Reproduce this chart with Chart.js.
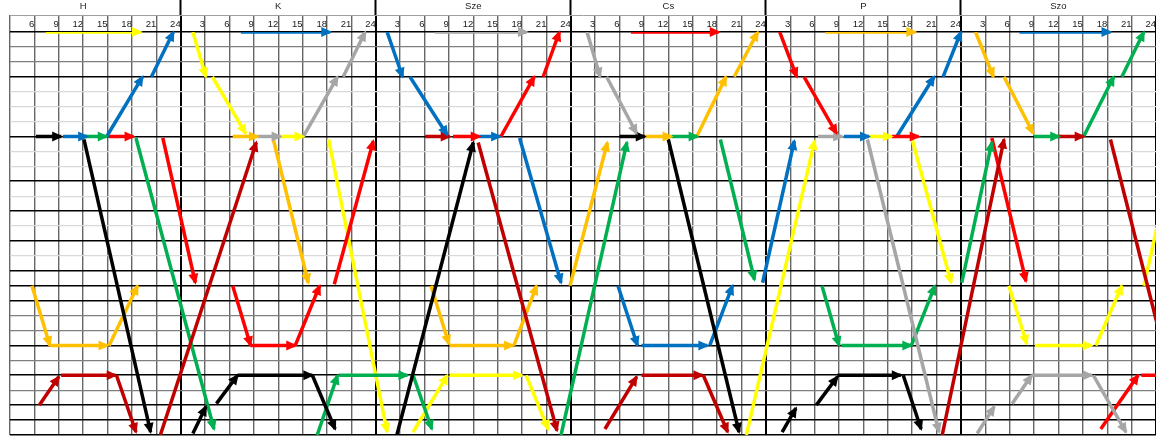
<!DOCTYPE html>
<html>
<head>
<meta charset="utf-8">
<script src="https://cdn.jsdelivr.net/npm/chart.js@4.4.1/dist/chart.umd.min.js"></script>
<style>
html, body { margin: 0; padding: 0; background: #fff; }
#wrap { width: 1156px; height: 436px; }
</style>
</head>
<body>
<div id="wrap"><canvas id="chart"></canvas></div>
<script>
// Week timetable: x = hours from Monday 0:00, y = row counted down from the top line
const days = ['H', 'K', 'Sze', 'Cs', 'P', 'Szo'];
const hourLabels = ['24', '3', '6', '9', '12', '15', '18', '21'];

// segments as [fromHour, fromRow, toHour, toRow], each drawn as an arrow
const yellow = [
  [7.4, 0, 19.1, 0], [25.5, 0, 27.1, 3], [27.9, 3, 32.0, 6.8], [36.3, 7, 39.1, 7],
  [42.2, 7.2, 49.4, 26.8], [52.6, 26.8, 56.8, 23], [57.1, 23, 66.0, 23], [66.5, 23, 69.2, 26.6],
  [93.6, 27, 102.0, 7.3], [108.7, 7, 111.5, 7], [114.0, 7.2, 118.8, 16.8],
  [125.9, 17, 128.1, 20.9], [129.1, 21, 136.1, 21], [136.6, 21, 139.8, 17], [142.5, 17, 146.5, 7.4]
];
const blue = [
  [9.5, 7, 12.5, 7], [14.9, 7, 19.3, 3], [20.4, 3, 23.1, 0], [31.4, 0, 42.4, 0],
  [49.4, 0, 51.3, 3], [52.2, 3, 56.8, 6.9], [60.8, 7, 63.3, 7], [65.7, 7.1, 70.8, 16.8],
  [77.8, 17, 80.2, 21], [80.7, 21, 88.8, 21], [89.1, 21, 91.9, 17],
  [95.6, 16.8, 99.5, 7.3], [105.6, 7, 108.7, 7], [112.1, 7, 116.7, 3], [117.8, 3, 120.0, 0],
  [127.2, 0, 138.4, 0]
];
const green = [
  [12.1, 7, 14.9, 7], [18.5, 7.1, 28.1, 26.6], [40.8, 27, 43.3, 23], [43.5, 23, 51.9, 23], [52.6, 23, 54.9, 26.6],
  [70.8, 27, 78.9, 7.4], [84.4, 7, 87.6, 7], [90.4, 7.2, 94.6, 16.6],
  [102.9, 17, 105.0, 21], [105.3, 21, 113.9, 21], [113.9, 21, 116.8, 17],
  [120.1, 16.8, 123.8, 7.4], [129.0, 7, 132.1, 7], [135.1, 7, 138.8, 3], [139.8, 3, 142.5, 0]
];
const red = [
  [15.2, 7, 18.2, 7], [21.8, 7.1, 25.8, 16.8], [30.4, 17, 32.6, 21], [32.6, 21, 38.1, 21], [38.1, 21, 41.1, 17],
  [42.9, 16.9, 47.7, 7.3], [57.5, 7, 60.8, 7], [63.4, 7, 67.5, 3], [68.6, 3, 70.6, 0],
  [79.4, 0, 90.2, 0], [97.7, 0, 99.8, 3], [100.7, 3, 104.7, 6.8], [111.5, 7, 114.8, 7],
  [123.8, 7.1, 128.0, 16.7], [137.2, 26.6, 141.8, 23], [142.2, 23, 147, 23]
];
const darkRed = [
  [6.6, 25, 9.0, 23.1], [9.3, 23, 16.0, 23], [16.1, 23, 18.5, 26.8], [21.5, 27, 33.3, 7.4],
  [54.1, 7, 57.1, 7], [60.6, 7.4, 70.3, 26.7],
  [76.2, 26.6, 80.1, 23.1], [80.7, 23, 88.2, 23], [88.3, 23, 91.3, 26.8],
  [117.7, 27, 125.3, 7.2], [131.9, 7, 135.1, 7], [138.4, 7.2, 147.6, 27]
];
const orange = [
  [5.7, 17, 7.9, 21], [7.9, 21, 15.0, 21], [15.2, 21, 18.7, 17], [30.4, 7, 33.5, 7], [35.4, 7.2, 39.7, 16.8],
  [54.8, 17, 57.0, 20.9], [57.1, 21, 64.9, 21], [65.0, 21, 67.8, 17], [71.9, 17, 76.5, 7.4],
  [81.1, 7, 84.4, 7], [87.5, 7, 91.1, 3], [92.1, 3, 95.0, 0], [103.3, 0, 114.4, 0],
  [121.8, 0, 124.0, 3], [125.3, 3, 128.9, 6.8]
];
const grey = [
  [33.5, 7, 36.3, 7], [39.1, 7, 43.3, 3], [44.0, 3, 46.7, 0], [55.3, 0, 66.6, 0],
  [74.0, 0, 75.6, 3], [76.4, 3, 80.1, 6.8], [102.4, 7, 105.4, 7], [108.5, 7.2, 117.3, 26.8],
  [122.0, 26.9, 124.1, 25.1], [126.3, 24.9, 128.7, 23], [128.7, 23, 136.1, 23], [136.3, 23, 140.3, 26.8]
];
const black = [
  [6.2, 7, 9.3, 7], [12.1, 7.2, 20.3, 26.8], [25.5, 26.9, 27.1, 25.1], [28.4, 24.9, 31.0, 23],
  [31.0, 23, 40.2, 23], [40.2, 23, 43.0, 26.6], [50.6, 27, 60.0, 7.4], [78.0, 7, 81.1, 7],
  [84.0, 7.2, 92.7, 26.8], [98.0, 26.8, 99.7, 25.2], [102.2, 25, 104.8, 23.1], [104.8, 23, 112.6, 23], [112.9, 23, 115.1, 26.6]
];

const groups = [
  { segs: darkRed, color: '#C00000' },
  { segs: black, color: '#000000' },
  { segs: grey, color: '#A6A6A6' },
  { segs: green, color: '#00B050' },
  { segs: orange, color: '#FFC000' },
  { segs: red, color: '#FF0000' },
  { segs: blue, color: '#0070C0' },
  { segs: yellow, color: '#FFFF00' }
];

// grid line looks per row
const blackRows = [0, 3, 7, 10, 12, 14, 16, 17, 18, 21, 23, 25, 26, 27];
const lightRows = [4, 5, 6, 8, 9, 11, 13, 15];

const datasets = [];
groups.forEach(g => {
  g.segs.forEach(s => {
    datasets.push({
      data: [{ x: s[0], y: s[1] }, { x: s[2], y: s[3] }],
      borderColor: g.color,
      borderWidth: 3.5,
      pointRadius: 0,
      pointHoverRadius: 0,
      tension: 0
    });
  });
});

const arrowHeads = {
  id: 'arrowHeads',
  afterDatasetsDraw(chart) {
    const { ctx, chartArea: a, scales: { x, y } } = chart;
    ctx.save();
    ctx.beginPath();
    ctx.rect(a.left, 0, a.right - a.left, a.bottom + 2);
    ctx.clip();
    chart.data.datasets.forEach(ds => {
      const p = ds.data[0], q = ds.data[1];
      const x1 = x.getPixelForValue(p.x), y1 = y.getPixelForValue(p.y);
      const x2 = x.getPixelForValue(q.x), y2 = y.getPixelForValue(q.y);
      const ang = Math.atan2(y2 - y1, x2 - x1);
      const c = Math.cos(ang), s = Math.sin(ang);
      const len = 11, half = 5;
      const tx = x2 + c * 2, ty = y2 + s * 2;
      ctx.fillStyle = ds.borderColor;
      ctx.beginPath();
      ctx.moveTo(tx, ty);
      ctx.lineTo(tx - len * c + half * s, ty - len * s - half * c);
      ctx.lineTo(tx - len * c - half * s, ty - len * s + half * c);
      ctx.closePath();
      ctx.fill();
    });
    ctx.restore();
  }
};

const isDay = c => c.tick && c.tick.value % 24 === 0;
const rowColor = v => blackRows.includes(v) ? '#000000' : (lightRows.includes(v) ? '#D9D9D9' : '#7F7F7F');

new Chart(document.getElementById('chart'), {
  type: 'line',
  data: { datasets },
  options: {
    responsive: true,
    maintainAspectRatio: false,
    animation: false,
    parsing: false,
    layout: { padding: { top: 0, left: 0, right: 0, bottom: 1 } },
    plugins: { legend: { display: false }, tooltip: { enabled: false } },
    events: [],
    scales: {
      x: {
        type: 'linear', position: 'top', min: 3, max: 144,
        ticks: {
          stepSize: 3, autoSkip: false, maxRotation: 0, align: 'end', padding: -15.4,
          font: { family: 'Liberation Sans', size: 9.5 }, color: '#222',
          callback: v => v === 3 ? '' : hourLabels[(v % 24) / 3]
        },
        grid: {
          tickLength: 17,
          color: c => isDay(c) ? '#000' : '#666666',
          lineWidth: c => isDay(c) ? 2 : 1.4,
          tickColor: c => isDay(c) ? '#000' : '#666666',
          tickWidth: c => isDay(c) ? 2 : 1.4
        },
        border: { display: false },
        afterFit: s => { s.height = 17; }
      },
      xd: {
        type: 'linear', position: 'top', min: 3, max: 144, weight: 1,
        afterBuildTicks: s => {
          const t = [];
          days.forEach((d, i) => { t.push({ value: i * 24 + 12 }); if (i < days.length - 1) t.push({ value: i * 24 + 24 }); });
          s.ticks = t;
        },
        ticks: {
          autoSkip: false, maxRotation: 0, padding: -12.2,
          font: { family: 'Liberation Sans', size: 9.5 }, color: '#222',
          callback: v => v % 24 === 12 ? days[(v - 12) / 24] : ''
        },
        grid: {
          drawOnChartArea: false, tickLength: 15,
          tickColor: c => c.tick && c.tick.value % 24 === 0 ? '#000' : 'rgba(0,0,0,0)',
          tickWidth: 2
        },
        border: { display: true, color: '#9F9F9F', width: 1 },
        afterFit: s => { s.height = 15; }
      },
      y: {
        type: 'linear', min: 0, max: 27, reverse: true,
        ticks: { stepSize: 1, display: false },
        grid: {
          drawTicks: false,
          color: c => rowColor(c.tick.value),
          lineWidth: c => blackRows.includes(c.tick.value) ? 1.6 : 1.2
        },
        border: { display: false },
        afterFit: s => { s.width = 10; }
      }
    }
  },
  plugins: [arrowHeads]
});
</script>
</body>
</html>
